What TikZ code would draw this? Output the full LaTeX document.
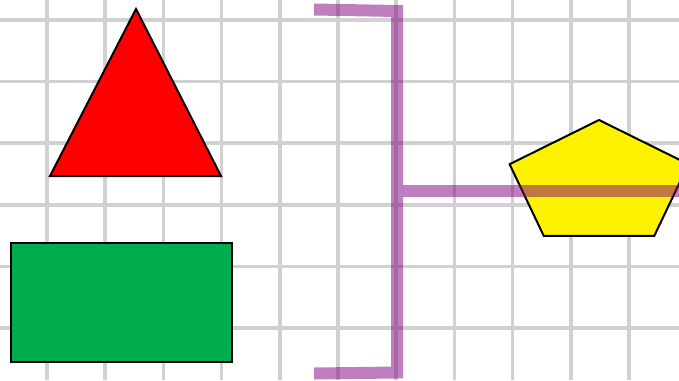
\documentclass[tikz,border=0pt]{standalone}
\usepackage{tikz}
\usetikzlibrary{calc}

\definecolor{shapegreen}{RGB}{0,172,78}
\definecolor{bracketpurple}{RGB}{128,0,128}

\begin{document}
\begin{tikzpicture}[x=1pt, y=-1pt,
    gridline/.style={draw=black!18, line width=3.5pt},
    outline/.style={draw=black, line width=2pt, line join=miter},
    bracketline/.style={draw=bracketpurple, draw opacity=0.5, line width=12pt}]
    \useasboundingbox (0,0) rectangle (679,380);
    \fill[white] (0,0) rectangle (679,380);
    \begin{scope}
    \clip (0,0) rectangle (679,380);
    % grid
    \foreach \k in {0,...,11}
        \draw[gridline] ({47+58.2*\k},0) -- ({47+58.2*\k},380);
    \foreach \k in {0,...,5}
        \draw[gridline] (0,{20+61.6*\k}) -- (679,{20+61.6*\k});
    % shapes
    \draw[outline, fill=red] (136,9) -- (221,176) -- (50,176) -- cycle;
    \draw[outline, fill=shapegreen] (11,243) rectangle (232,362);
    \draw[outline, fill=yellow] (599,120) -- (688.4,164.2) -- (654.3,235.8)
        -- (543.7,235.8) -- (509.6,164.2) -- cycle;
    % bracket
    \coordinate (top) at (314,9.5);
    \coordinate (corner1) at (397,11);
    \coordinate (mid) at (397,190.5);
    \coordinate (corner2) at (397,372.5);
    \coordinate (bottom) at (314,373.5);
    \coordinate (tail) at (690,190.5);
    \draw[bracketline] (top) -- (corner1) -- (corner2) -- (bottom);
    \draw[bracketline] ($(mid)+(6,0)$) -- (tail);
    \end{scope}
\end{tikzpicture}
\end{document}
